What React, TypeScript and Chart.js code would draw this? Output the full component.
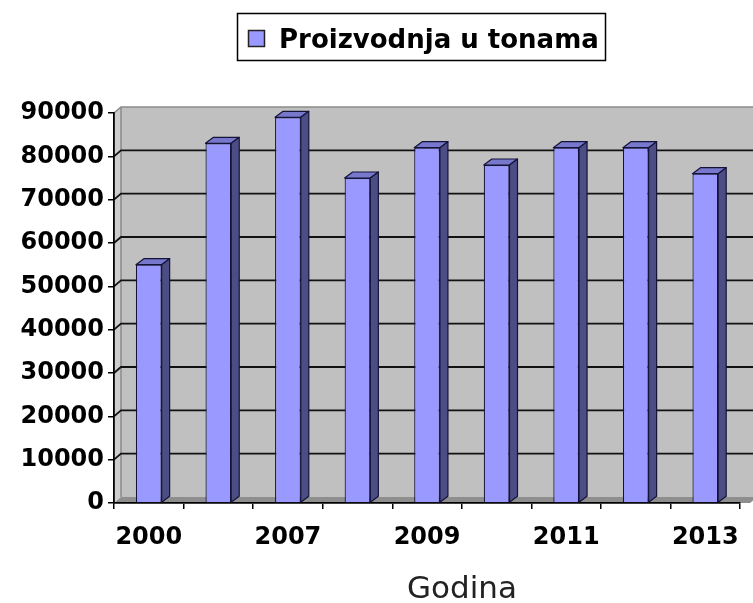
import React, { useEffect, useRef } from 'react';
import { Chart, registerables } from 'chart.js';

Chart.register(...registerables);

// Production per year (tonnes)
const years = ['2000', '2006', '2007', '2008', '2009', '2010', '2011', '2012', '2013'];
const production = [55000, 83000, 89000, 75000, 82000, 78000, 82000, 82000, 76000];
const seriesLabel = 'Proizvodnja u tonama';
const xAxisTitle = 'Godina';
const yMin = 0;
const yMax = 90000;
const yStep = 10000;

const WIDTH = 753;
const HEIGHT = 603;

// depth of the pseudo-3D box and of each column
const WALL_DX = 7;
const WALL_DY = 6;
const BAR_DX = 8;
const BAR_DY = 6;

const FONT = '"DejaVu Sans", "Liberation Sans", Arial, sans-serif';
const BAR_FRONT = '#9999ff';
const BAR_TOP = '#7777cc';
const BAR_SIDE = '#4d4d86';
const BAR_EDGE = '#14143a';

const wallPlugin = {
  id: 'wall3d',
  beforeDraw(chart: any) {
    const { ctx, chartArea } = chart;
    const { left, right, top, bottom } = chartArea;
    const y = chart.scales.y;
    ctx.save();
    // left side wall
    ctx.fillStyle = '#cdcdcd';
    ctx.beginPath();
    ctx.moveTo(left, top);
    ctx.lineTo(left + WALL_DX, top - WALL_DY);
    ctx.lineTo(left + WALL_DX, bottom - WALL_DY);
    ctx.lineTo(left, bottom);
    ctx.closePath();
    ctx.fill();
    // back wall
    ctx.fillStyle = '#c0c0c0';
    ctx.fillRect(left + WALL_DX, top - WALL_DY, right - left + 10, bottom - top);
    // floor
    ctx.fillStyle = '#8e8e8e';
    ctx.beginPath();
    ctx.moveTo(left, bottom);
    ctx.lineTo(left + WALL_DX, bottom - WALL_DY);
    ctx.lineTo(right + WALL_DX + 10, bottom - WALL_DY);
    ctx.lineTo(right + 10, bottom);
    ctx.closePath();
    ctx.fill();
    // wall outline
    ctx.strokeStyle = '#8a8a8a';
    ctx.lineWidth = 1.5;
    ctx.beginPath();
    ctx.moveTo(left, top);
    ctx.lineTo(left + WALL_DX, top - WALL_DY);
    ctx.lineTo(right + WALL_DX + 10, top - WALL_DY);
    ctx.moveTo(left + WALL_DX, top - WALL_DY);
    ctx.lineTo(left + WALL_DX, bottom - WALL_DY);
    ctx.stroke();
    // gridlines on side and back wall
    ctx.strokeStyle = '#111';
    ctx.lineWidth = 1.8;
    for (let v = yMin + yStep; v < yMax; v += yStep) {
      const py = y.getPixelForValue(v);
      ctx.beginPath();
      ctx.moveTo(left, py);
      ctx.lineTo(left + WALL_DX, py - WALL_DY);
      ctx.lineTo(right + WALL_DX + 10, py - WALL_DY);
      ctx.stroke();
    }
    ctx.restore();
  },
  afterDatasetsDraw(chart: any) {
    const { ctx } = chart;
    const meta = chart.getDatasetMeta(0);
    ctx.save();
    ctx.lineWidth = 1.2;
    ctx.strokeStyle = BAR_EDGE;
    ctx.lineJoin = 'round';
    meta.data.forEach((bar: any) => {
      const { x, y, base, width } = bar.getProps(['x', 'y', 'base', 'width'], true);
      const l = x - width / 2;
      const r = x + width / 2;
      // top face
      ctx.fillStyle = BAR_TOP;
      ctx.beginPath();
      ctx.moveTo(l, y);
      ctx.lineTo(l + BAR_DX, y - BAR_DY);
      ctx.lineTo(r + BAR_DX, y - BAR_DY);
      ctx.lineTo(r, y);
      ctx.closePath();
      ctx.fill();
      ctx.stroke();
      // side face
      ctx.fillStyle = BAR_SIDE;
      ctx.beginPath();
      ctx.moveTo(r, y);
      ctx.lineTo(r + BAR_DX, y - BAR_DY);
      ctx.lineTo(r + BAR_DX, base - BAR_DY);
      ctx.lineTo(r, base);
      ctx.closePath();
      ctx.fill();
      ctx.stroke();
    });
    ctx.restore();
  },
  afterDraw(chart: any) {
    const { ctx, chartArea } = chart;
    ctx.save();
    // legend box
    ctx.strokeStyle = '#000';
    ctx.lineWidth = 1.5;
    ctx.strokeRect(237.5, 13.5, 368, 47);
    ctx.fillStyle = BAR_FRONT;
    ctx.fillRect(248, 30, 17, 17);
    ctx.strokeStyle = '#222';
    ctx.lineWidth = 1.5;
    ctx.strokeRect(248.5, 30.5, 16, 16);
    ctx.fillStyle = '#000';
    ctx.font = `bold 26px ${FONT}`;
    ctx.textBaseline = 'alphabetic';
    ctx.textAlign = 'left';
    ctx.fillText(chart.data.datasets[0].label, 279, 48);
    // x axis title
    ctx.font = `31px ${FONT}`;
    ctx.textAlign = 'center';
    ctx.fillStyle = '#222';
    ctx.fillText(xAxisTitle, (chartArea.left + chartArea.right) / 2 + 35, 598);
    ctx.restore();
  },
};

export default function App() {
  const canvasRef = useRef<HTMLCanvasElement | null>(null);

  useEffect(() => {
    if (!canvasRef.current) return;
    const chart = new Chart(canvasRef.current, {
      type: 'bar',
      data: {
        labels: years,
        datasets: [
          {
            label: seriesLabel,
            data: production,
            backgroundColor: BAR_FRONT,
            borderColor: BAR_EDGE,
            borderWidth: 1.2,
            barPercentage: 0.37,
            categoryPercentage: 1,
          },
        ],
      },
      options: {
        responsive: false,
        animation: false,
        layout: { padding: { top: 113, right: 5, left: 0, bottom: 0 } },
        plugins: {
          legend: { display: false },
          tooltip: { enabled: false },
        },
        scales: {
          x: {
            afterFit: (s: any) => {
              s.height = 100;
            },
            grid: {
              display: true,
              drawOnChartArea: false,
              drawTicks: true,
              tickLength: 6,
              color: '#000',
              lineWidth: 1.5,
              offset: true,
            },
            border: { display: true, color: '#000', width: 1.8 },
            ticks: {
              autoSkip: false,
              maxRotation: 0,
              padding: 14,
              color: '#000',
              font: { family: FONT, size: 24, weight: 'bold' },
              callback: (_v: any, i: number) => (i % 2 === 0 ? years[i] : ''),
            },
          },
          y: {
            min: yMin,
            max: yMax,
            afterFit: (s: any) => {
              s.width = 114;
            },
            grid: {
              display: true,
              drawOnChartArea: false,
              drawTicks: true,
              tickLength: 6,
              color: '#000',
              lineWidth: 1.5,
            },
            border: { display: true, color: '#000', width: 1.8 },
            ticks: {
              stepSize: yStep,
              padding: 4,
              color: '#000',
              font: { family: FONT, size: 24, weight: 'bold' },
              callback: (v: any) => String(v),
            },
          },
        },
      },
      plugins: [wallPlugin],
    });
    return () => chart.destroy();
  }, []);

  return (
    <div style={{ position: 'absolute', left: 0, top: 0, width: WIDTH, height: HEIGHT, background: '#fff' }}>
      <canvas ref={canvasRef} width={WIDTH} height={HEIGHT} />
    </div>
  );
}
